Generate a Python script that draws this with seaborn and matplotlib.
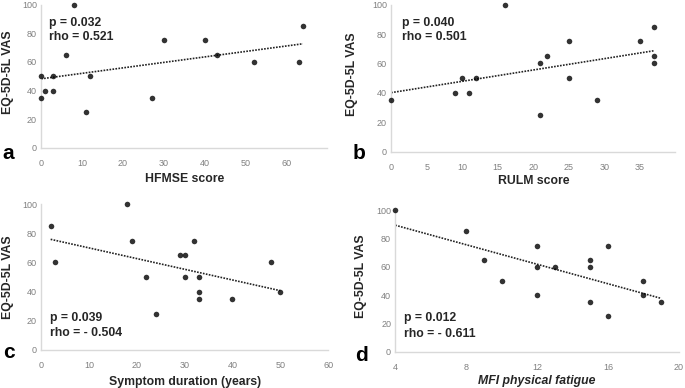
import matplotlib
matplotlib.use('Agg')
import matplotlib.pyplot as plt
import seaborn as sns

# EQ-5D-5L VAS vs clinical scores
hfmse = [0, 0, 1, 3, 3, 6, 8, 11, 12, 27, 30, 40, 43, 52, 63, 64]
hfmse_vas = [50, 35, 40, 50, 40, 65, 100, 25, 50, 35, 75, 75, 65, 60, 60, 85]

rulm = [0, 9, 10, 11, 12, 16, 21, 21, 22, 25, 25, 29, 35, 37, 37, 37]
rulm_vas = [35, 40, 50, 40, 50, 100, 60, 25, 65, 75, 50, 35, 75, 85, 65, 60]

duration = [2, 3, 18, 19, 22, 24, 29, 30, 30, 32, 33, 33, 33, 40, 48, 50]
duration_vas = [85, 60, 100, 75, 50, 25, 65, 65, 50, 75, 50, 40, 35, 35, 60, 40]

mfi = [4, 8, 9, 10, 12, 12, 12, 13, 15, 15, 15, 16, 16, 18, 18, 19]
mfi_vas = [100, 85, 65, 50, 75, 60, 40, 60, 65, 60, 35, 75, 25, 50, 40, 35]

stats_text = [("p = 0.032", "rho = 0.521"), ("p = 0.040", "rho = 0.501"),
              ("p = 0.039", "rho = - 0.504"), ("p = 0.012", "rho = - 0.611")]
xlabels = ["HFMSE score", "RULM score", "Symptom duration (years)", "MFI physical fatigue"]
letters = ["a", "b", "c", "d"]

sns.set_style("white")
plt.rcParams['font.family'] = ['Liberation Sans', 'DejaVu Sans']

fig = plt.figure(figsize=(6.85, 3.88), dpi=100)

# axes rectangles (figure fractions), matched to reference layout
rects = [
    [0.060, 0.619, 0.418, 0.369],
    [0.571, 0.609, 0.415, 0.379],
    [0.060, 0.098, 0.419, 0.376],
    [0.577, 0.094, 0.414, 0.364],
]
datasets = [(hfmse, hfmse_vas), (rulm, rulm_vas), (duration, duration_vas), (mfi, mfi_vas)]
xlims = [(0, 70), (0, 40), (0, 60), (4, 20)]
xticks = [range(0, 61, 10), range(0, 36, 5), range(0, 61, 10), range(4, 21, 4)]
text_pos = [(0.028, 0.874, 0.776), (0.038, 0.873, 0.778),
            (0.031, 0.218, 0.115), (0.032, 0.236, 0.125)]
ylabel_pos = [(-0.095, 0.53), (-0.115, 0.53), (-0.095, 0.50), (-0.099, 0.53)]
xlabel_pos = [-0.175, -0.158, -0.175, -0.168]
letter_pos = [(0.003, 0.59), (0.515, 0.59), (0.004, 0.077), (0.518, 0.07)]

grey_spine = '#d9d9d9'
grey_tick = '#808080'
dark = '#262626'

for i in range(4):
    ax = fig.add_axes(rects[i])
    x, y = datasets[i]
    sns.regplot(x=x, y=y, ax=ax, ci=None, color='black',
                scatter_kws={'s': 16, 'clip_on': False, 'linewidths': 0, 'zorder': 3},
                line_kws={'linestyle': (0, (1, 0.8)), 'linewidth': 1.2, 'color': '#222222'})
    ax.set_xlim(*xlims[i])
    ax.set_ylim(0, 100)
    ax.set_xticks(list(xticks[i]))
    ax.set_yticks(range(0, 101, 20))
    sns.despine(ax=ax)
    for side in ['left', 'bottom']:
        ax.spines[side].set_color(grey_spine)
        ax.spines[side].set_linewidth(1.0)
    ax.tick_params(axis='both', length=0, labelsize=6.5, colors=grey_tick)
    ax.tick_params(axis='x', pad=8)
    ax.tick_params(axis='y', pad=3)
    style = 'italic' if i == 3 else 'normal'
    ax.set_xlabel(xlabels[i], fontsize=8.8, fontweight='bold', color=dark, fontstyle=style)
    ax.set_ylabel("EQ-5D-5L VAS", fontsize=8.8, fontweight='bold', color=dark)
    ax.xaxis.set_label_coords(0.5, xlabel_pos[i])
    ax.yaxis.set_label_coords(*ylabel_pos[i])
    tx, ty1, ty2 = text_pos[i]
    ax.text(tx, ty1, stats_text[i][0], transform=ax.transAxes, fontsize=8.8,
            fontweight='bold', color=dark, va='center', ha='left')
    ax.text(tx, ty2, stats_text[i][1], transform=ax.transAxes, fontsize=8.8,
            fontweight='bold', color=dark, va='center', ha='left')
    lx, ly = letter_pos[i]
    fig.text(lx, ly, letters[i], fontsize=15, fontweight='bold', color='black',
             ha='left', va='baseline')

fig.savefig('out.png', dpi=100)
